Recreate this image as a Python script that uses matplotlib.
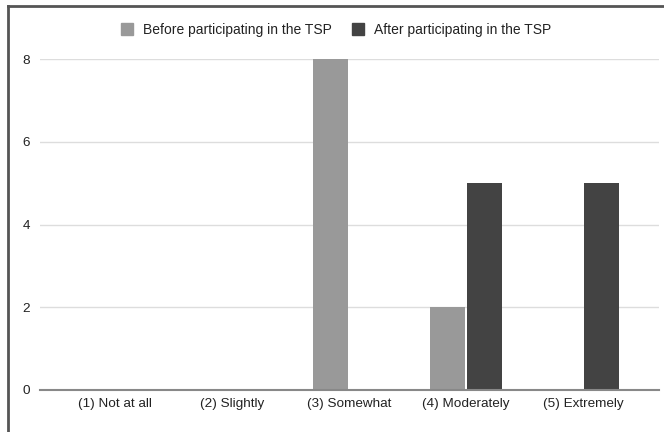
import matplotlib.pyplot as plt
import numpy as np
from matplotlib.lines import Line2D
from matplotlib.patches import Patch

# survey answers
categories = ['(1) Not at all', '(2) Slightly', '(3) Somewhat', '(4) Moderately', '(5) Extremely']
before_tsp = [0, 0, 8, 2, 0]
after_tsp = [0, 0, 0, 5, 5]
series_names = ['Before participating in the TSP', 'After participating in the TSP']

plt.rcParams['font.family'] = ['Liberation Sans', 'DejaVu Sans']

fig = plt.figure(figsize=(6.64, 4.32), dpi=100)
ax = fig.add_axes([40 / 664, 42 / 432, 619 / 664, 331 / 432])

x = np.arange(len(categories))
w = 0.3
off = 0.16
ax.bar(x - off, before_tsp, width=w, color='#999999', zorder=3)
ax.bar(x + off, after_tsp, width=w, color='#434343', zorder=3)

ax.set_xlim(-0.64, 4.65)
ax.set_ylim(0, 8)
ax.set_yticks([0, 2, 4, 6, 8])
ax.set_xticks(x)
ax.set_xticklabels(categories)
ax.tick_params(length=0, labelsize=9.7, colors='#222222')
ax.tick_params(axis='y', pad=7)
ax.tick_params(axis='x', pad=6)
ax.grid(axis='y', color='#dddddd', linewidth=1, zorder=0)
for s in ['top', 'right', 'left']:
    ax.spines[s].set_visible(False)
ax.spines['bottom'].set_color('#888888')
ax.spines['bottom'].set_linewidth(1.5)
ax.spines['bottom'].set_zorder(4)

handles = [Patch(color='#999999'), Patch(color='#434343')]
fig.legend(handles, series_names, loc='center', bbox_to_anchor=(336 / 664, 1 - 30 / 432),
           ncol=2, frameon=False, fontsize=10, handlelength=0.9, handleheight=0.9,
           handletextpad=0.7, columnspacing=1.4, labelcolor='#222222')

# screenshot frame on the top and left
fig.add_artist(Line2D([8 / 664, 1], [1 - 6 / 432, 1 - 6 / 432], color='#555555', linewidth=2))
fig.add_artist(Line2D([8 / 664, 8 / 664], [0, 1 - 6 / 432], color='#555555', linewidth=2))

fig.savefig('out.png', dpi=100)
